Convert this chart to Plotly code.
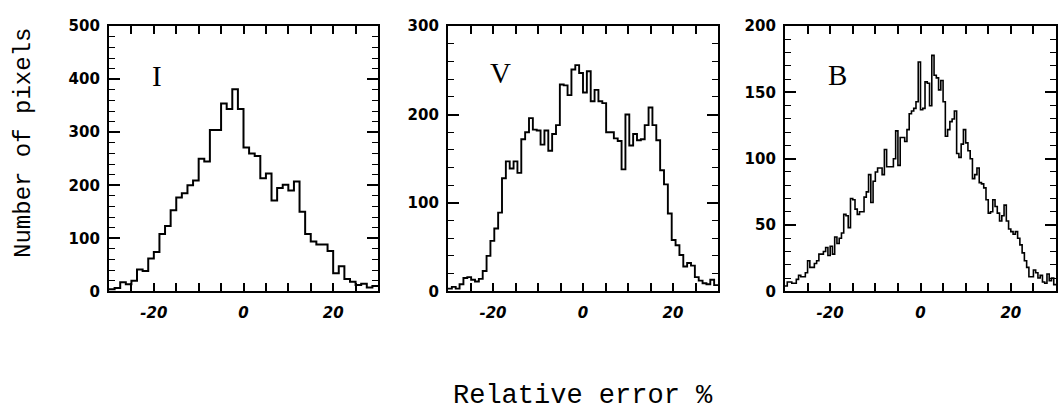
import numpy as np
import plotly.graph_objects as go
from plotly.subplots import make_subplots

# Relative error histograms (percent) for the I, V and B bands
x_range = [-30, 30]

i_counts = [4, 6, 17, 13, 20, 41, 38, 62, 74, 108, 123, 153, 177, 185, 200, 209,
            250, 245, 304, 304, 354, 344, 381, 344, 271, 260, 255, 213, 222, 171,
            195, 201, 190, 207, 150, 108, 94, 88, 88, 76, 34, 47, 23, 18, 12, 14, 7, 10]

v_counts = [3, 5, 3, 8, 15, 16, 13, 11, 14, 23,
            40, 57, 71, 89, 128, 147, 139, 147, 134, 172,
            180, 196, 183, 182, 166, 182, 159, 178, 188, 234,
            233, 222, 251, 256, 247, 225, 249, 215, 228, 215,
            213, 180, 180, 173, 170, 138, 200, 165, 178, 171,
            172, 188, 208, 188, 171, 137, 121, 88, 58, 52,
            41, 28, 32, 29, 16, 12, 9, 8, 13, 7]

b_counts = [4, 7, 7, 6, 6, 9, 12, 11, 11, 14,
            23, 18, 18, 21, 23, 28, 28, 30, 33, 27,
            34, 28, 41, 36, 40, 44, 58, 57, 48, 70,
            69, 62, 58, 60, 60, 71, 75, 88, 67, 83,
            90, 93, 93, 88, 107, 94, 94, 94, 100, 121,
            95, 116, 116, 113, 122, 134, 136, 138, 143, 173,
            137, 138, 158, 157, 140, 178, 163, 161, 152, 159,
            143, 117, 122, 128, 130, 136, 104, 101, 111, 122,
            112, 106, 100, 85, 88, 93, 82, 81, 78, 69,
            59, 60, 69, 64, 59, 53, 57, 65, 53, 47,
            45, 43, 45, 40, 35, 29, 23, 18, 11, 11,
            16, 14, 10, 12, 7, 6, 13, 8, 10, 5]

panel_names = ["I", "V", "B"]
panel_counts = [i_counts, v_counts, b_counts]
y_ranges = [[0, 500], [0, 300], [0, 200]]
y_major = [100, 100, 50]
y_minor = [20, 20, 10]
label_pos = [(-19.3, 406), (-18.4, 247), (-18.3, 163)]
line_widths = [2.0, 1.9, 1.6]

x_domains = [[109 / 1058, 378 / 1058], [448 / 1058, 718 / 1058], [785 / 1058, 1056 / 1058]]
y_domain = [(417 - 295) / 417, (417 - 18) / 417]

fig = make_subplots(rows=1, cols=3)

for idx, counts in enumerate(panel_counts):
    counts = np.asarray(counts, dtype=float)
    edges = np.linspace(x_range[0], x_range[1], len(counts) + 1)
    ys = np.append(counts, counts[-1])
    fig.add_trace(
        go.Scatter(x=edges, y=ys, mode="lines", line_shape="hv",
                   line=dict(color="black", width=line_widths[idx]),
                   showlegend=False, hoverinfo="skip"),
        row=1, col=idx + 1,
    )

axis_font_x = dict(family="DejaVu Sans", size=15, color="black", weight="bold", style="italic")
axis_font_y = dict(family="DejaVu Sans", size=15, color="black", weight="bold")

for idx in range(3):
    xa = "xaxis" if idx == 0 else f"xaxis{idx + 1}"
    ya = "yaxis" if idx == 0 else f"yaxis{idx + 1}"
    fig.layout[xa].update(
        domain=x_domains[idx], range=x_range,
        showline=True, linewidth=2.2, linecolor="black", mirror="ticks",
        showgrid=False, zeroline=False,
        ticks="inside", ticklen=8, tickwidth=1.6, tickcolor="black",
        tickvals=[-20, 0, 20], ticktext=["-20", "0", "20"],
        tickfont=axis_font_x, ticklabelstandoff=7,
        minor=dict(dtick=5, tick0=0, ticks="inside", ticklen=8, tickwidth=1.6,
                   tickcolor="black", showgrid=False),
    )
    fig.layout[ya].update(
        domain=y_domain, range=y_ranges[idx],
        showline=True, linewidth=2.2, linecolor="black", mirror="ticks",
        showgrid=False, zeroline=False,
        ticks="inside", ticklen=11, tickwidth=1.6, tickcolor="black",
        dtick=y_major[idx], tick0=0,
        tickfont=axis_font_y, ticklabelstandoff=4,
        minor=dict(dtick=y_minor[idx], tick0=0, ticks="inside", ticklen=6,
                   tickwidth=1.3, tickcolor="black", showgrid=False),
    )
    xref = "x" if idx == 0 else f"x{idx + 1}"
    yref = "y" if idx == 0 else f"y{idx + 1}"
    fig.add_annotation(x=label_pos[idx][0], y=label_pos[idx][1], xref=xref, yref=yref,
                       text=panel_names[idx], showarrow=False,
                       font=dict(family="Liberation Serif", size=29, color="black"))

fig.add_annotation(x=24 / 1058, y=(417 - 140) / 417, xref="paper", yref="paper",
                   xanchor="center", yanchor="middle",
                   text="Number of pixels", textangle=-90, showarrow=False,
                   font=dict(family="Liberation Mono", size=24, color="black"))
fig.add_annotation(x=583 / 1058, y=(417 - 404) / 417, xref="paper", yref="paper",
                   xanchor="center", yanchor="middle",
                   text="Relative error %", showarrow=False,
                   font=dict(family="Liberation Mono", size=27, color="black"))

fig.update_layout(
    width=1058, height=417,
    margin=dict(l=0, r=0, t=0, b=0),
    paper_bgcolor="white", plot_bgcolor="white",
)

fig.write_html("out.html")
